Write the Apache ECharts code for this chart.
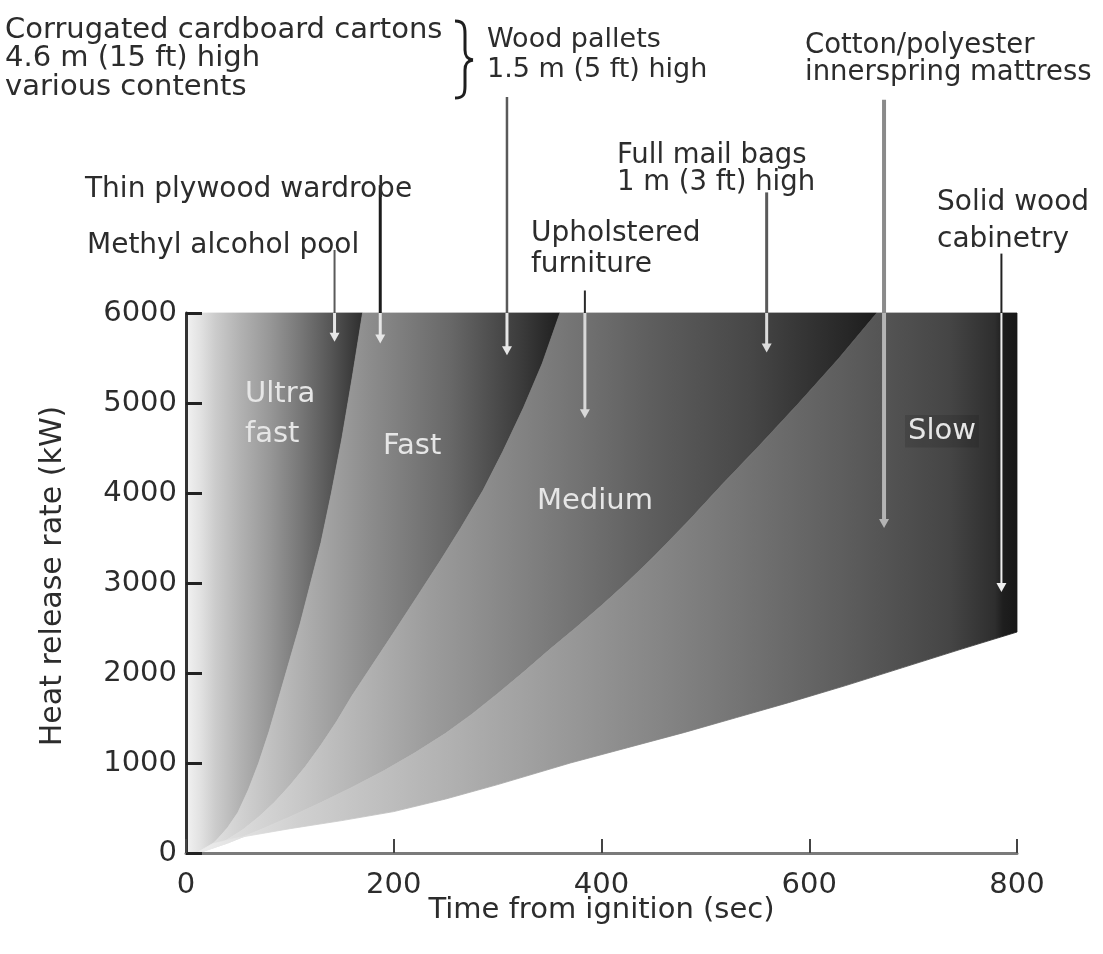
<!DOCTYPE html>
<html>
<head>
<meta charset="utf-8">
<title>Fire growth curves</title>
<script src="https://cdn.jsdelivr.net/npm/echarts@6/dist/echarts.min.js"></script>
<style>
  html, body { margin: 0; padding: 0; background: #ffffff; }
  #chart { width: 1103px; height: 954px; }
</style>
</head>
<body>
<div id="chart"></div>
<script>
// ---- Data: growth curves as [time from ignition (s), heat release rate (kW)] ----
const ultraFastCurve = [[12,0],[20,40],[30,150],[40,280],[50,450],[60,700],[70,1000],[80,1350],[90,1750],[100,2150],
                        [110,2550],[120,3000],[130,3450],[140,4000],[150,4600],[160,5280],[170,6000]];
const fastCurve      = [[12,0],[25,60],[40,150],[55,260],[70,400],[85,560],[100,750],[115,960],[130,1200],[145,1460],
                        [160,1750],[180,2100],[200,2450],[222,2840],[245,3250],[265,3620],[286,4030],[305,4460],
                        [325,4950],[343,5440],[360,6000]];
const mediumCurve    = [[12,0],[40,110],[70,250],[100,400],[130,560],[160,730],[190,910],[220,1110],[250,1330],
                        [275,1540],[300,1770],[325,2010],[350,2260],[375,2500],[400,2750],[425,3010],[450,3290],
                        [483,3680],[515,4080],[553,4540],[590,5000],[628,5490],[665,6000]];
const slowCurve      = [[10,0],[25,100],[50,170],[100,270],[150,360],[200,460],[250,600],[300,760],[335,880],
                        [370,1000],[425,1170],[480,1340],[530,1505],[580,1670],[635,1860],[690,2060],[745,2260],[800,2455]];

// Axis ranges
const timeMax = 800;
const timeStep = 200;
const hrrMax = 6000;
const hrrStep = 1000;

// Fuel items pointed at by arrows: time position, arrow start (kW, above the plot), arrow tip (kW)
const itemNames   = ['Methyl alcohol pool','Thin plywood wardrobe','Wood pallets','Upholstered furniture','Full mail bags','Cotton/polyester mattress','Solid wood cabinetry'];
const itemTimes   = [143, 187, 309, 384, 559, 672, 785];
const itemStartKW = [6700, 7420, 8400, 6250, 7340, 8370, 6660];
const itemTipKW   = [5680, 5660, 5530, 4830, 5560, 3610, 2900];

// Arrow styles (outside the plot / inside the plot)
const arrowStyles = [
  { outer: '#5a5a5a', outerW: 2,   inner: '#e6e6e6', innerW: 3 },
  { outer: '#1c1c1c', outerW: 3,   inner: '#e6e6e6', innerW: 3 },
  { outer: '#5a5a5a', outerW: 2.5, inner: '#e6e6e6', innerW: 3 },
  { outer: '#2a2a2a', outerW: 2,   inner: '#d8d8d8', innerW: 3 },
  { outer: '#5a5a5a', outerW: 3,   inner: '#dcdcdc', innerW: 3 },
  { outer: '#8a8a8a', outerW: 4,   inner: '#b4b4b4', innerW: 4 },
  { outer: '#222222', outerW: 2,   inner: '#f0f0f0', innerW: 2 }
];

// Horizontal shading of each band (fraction across band -> grey)
const bandShades = [
  [[0,'#f2f2f2'],[0.08,'#e2e2e2'],[0.165,'#cccccc'],[0.305,'#b2b2b2'],[0.475,'#979797'],[0.644,'#787878'],[0.814,'#575757'],[1,'#2e2e2e']],
  [[0,'#e8e8e8'],[0.318,'#a9a9a9'],[0.475,'#8c8c8c'],[0.696,'#686868'],[0.89,'#3c3c3c'],[1,'#1f1f1f']],
  [[0,'#e8e8e8'],[0.15,'#c8c8c8'],[0.34,'#9c9c9c'],[0.563,'#727272'],[0.666,'#5e5e5e'],[0.813,'#474747'],[0.887,'#363636'],[0.96,'#262626'],[1,'#1c1c1c']],
  [[0,'#eeeeee'],[0.125,'#d0d0d0'],[0.442,'#9a9a9a'],[0.613,'#7d7d7d'],[0.796,'#5c5c5c'],[0.918,'#454545'],[0.973,'#2e2e2e'],[0.983,'#1e1e1e'],[1,'#181818']]
];

const FONT = '"DejaVu Sans", "Liberation Sans", sans-serif';
const TEXT_DARK = '#2c2c2c';
const TEXT_LIGHT = '#e6e6e6';

// Polygon outline (in data units) for each shaded band
function bandOutline(i) {
  const rev = a => a.slice().reverse();
  if (i === 0) return [[0,0],[0,hrrMax]].concat(rev(ultraFastCurve));
  if (i === 1) return ultraFastCurve.concat(rev(fastCurve));
  if (i === 2) return fastCurve.concat(rev(mediumCurve));
  return slowCurve.concat([[timeMax,hrrMax]]).concat(rev(mediumCurve));
}

function textEl(x, y, text, size, extra) {
  return {
    type: 'text', x: x, y: y, z: 10,
    style: Object.assign({ text: text, font: size + 'px ' + FONT, fill: TEXT_DARK, lineHeight: 28.5 }, extra || {})
  };
}

const braceStyle = { stroke: '#1e1e1e', lineWidth: 3, fill: null };

const chart = echarts.init(document.getElementById('chart'), null, { renderer: 'canvas' });

const option = {
  animation: false,
  backgroundColor: '#ffffff',
  grid: { left: 186, right: 86, top: 313, bottom: 101 },
  xAxis: {
    type: 'value', min: 0, max: timeMax, interval: timeStep, z: 10,
    name: 'Time from ignition (sec)', nameLocation: 'middle', nameGap: 43, nameMoveOverlap: false,
    nameTextStyle: { fontFamily: FONT, fontSize: 29, color: TEXT_DARK },
    axisLine: { lineStyle: { color: '#7a7a7a', width: 3 } },
    axisTick: { inside: true, length: 14, lineStyle: { color: '#444444', width: 2 } },
    axisLabel: { fontFamily: FONT, fontSize: 29, color: TEXT_DARK, margin: 18, formatter: v => String(v) },
    splitLine: { show: false }
  },
  yAxis: {
    type: 'value', min: 0, max: hrrMax, interval: hrrStep, z: 10,
    name: 'Heat release rate (kW)', nameLocation: 'middle', nameGap: 118, nameRotate: 90,
    nameTextStyle: { fontFamily: FONT, fontSize: 30, color: TEXT_DARK, padding: [0, 0, 0, 14] },
    axisLine: { show: true, lineStyle: { color: '#333333', width: 3 } },
    axisTick: { show: true, inside: true, length: 16, lineStyle: { color: '#222222', width: 3 } },
    axisLabel: { fontFamily: FONT, fontSize: 29, color: TEXT_DARK, margin: 9, formatter: v => String(v) },
    splitLine: { show: false }
  },
  series: [
    {
      type: 'custom',
      name: 'growth bands',
      data: [[0],[1],[2],[3]],
      renderItem: function (params, api) {
        const i = params.dataIndex;
        const pts = bandOutline(i).map(p => api.coord(p));
        let x0 = Infinity, x1 = -Infinity;
        pts.forEach(p => { x0 = Math.min(x0, p[0]); x1 = Math.max(x1, p[0]); });
        const grad = new echarts.graphic.LinearGradient(x0, 0, x1, 0,
          bandShades[i].map(s => ({ offset: s[0], color: s[1] })), true);
        return {
          type: 'polygon',
          shape: { points: pts },
          style: { fill: grad, stroke: grad, lineWidth: 0.8 }
        };
      },
      z: 1
    },
    {
      type: 'custom',
      name: 'fuel items',
      clip: false,
      data: itemTimes.map((t, i) => [t, itemStartKW[i], itemTipKW[i]]),
      renderItem: function (params, api) {
        const st = arrowStyles[params.dataIndex];
        const t = api.value(0);
        const top = api.coord([t, api.value(1)]);
        const edge = api.coord([t, hrrMax]);
        const tip = api.coord([t, api.value(2)]);
        const hw = 5, hh = 9;
        return {
          type: 'group',
          children: [
            { type: 'line', shape: { x1: top[0], y1: top[1], x2: edge[0], y2: edge[1] },
              style: { stroke: st.outer, lineWidth: st.outerW } },
            { type: 'line', shape: { x1: edge[0], y1: edge[1], x2: tip[0], y2: tip[1] - hh + 1 },
              style: { stroke: st.inner, lineWidth: st.innerW } },
            { type: 'polygon', shape: { points: [[tip[0] - hw, tip[1] - hh], [tip[0] + hw, tip[1] - hh], [tip[0], tip[1]]] },
              style: { fill: st.inner } }
          ]
        };
      },
      z: 3
    }
  ],
  graphic: [
    // Labels above the plot
    textEl(5, 16, 'Corrugated cardboard cartons\n4.6 m (15 ft) high\nvarious contents', 29),
    { type: 'bezierCurve', shape: { x1: 455, y1: 21, x2: 465, y2: 34, cpx1: 464, cpy1: 21, cpx2: 465, cpy2: 26 }, style: braceStyle },
    { type: 'line', shape: { x1: 465, y1: 34, x2: 465, y2: 50 }, style: braceStyle },
    { type: 'bezierCurve', shape: { x1: 465, y1: 50, x2: 473, y2: 60, cpx1: 465, cpy1: 56, cpx2: 467, cpy2: 59 }, style: braceStyle },
    { type: 'bezierCurve', shape: { x1: 473, y1: 60, x2: 465, y2: 70, cpx1: 467, cpy1: 61, cpx2: 465, cpy2: 64 }, style: braceStyle },
    { type: 'line', shape: { x1: 465, y1: 70, x2: 465, y2: 86 }, style: braceStyle },
    { type: 'bezierCurve', shape: { x1: 465, y1: 86, x2: 455, y2: 98, cpx1: 465, cpy1: 94, cpx2: 464, cpy2: 98 }, style: braceStyle },
    textEl(487, 25, 'Wood pallets\n1.5 m (5 ft) high', 27, { lineHeight: 30 }),
    textEl(805, 32, 'Cotton/polyester\ninnerspring mattress', 27.5, { lineHeight: 27.5 }),
    textEl(85, 175, 'Thin plywood wardrobe', 28),
    textEl(617, 142, 'Full mail bags\n1 m (3 ft) high', 27.5, { lineHeight: 27 }),
    textEl(87, 231, 'Methyl alcohol pool', 28),
    textEl(531, 218, 'Upholstered\nfurniture', 28, { lineHeight: 31 }),
    textEl(937, 184, 'Solid wood\ncabinetry', 28, { lineHeight: 37 }),
    // Growth class names inside the plot
    textEl(245, 375, 'Ultra\nfast', 29, { lineHeight: 39.5, fill: TEXT_LIGHT }),
    textEl(383, 432, 'Fast', 29, { fill: TEXT_LIGHT }),
    textEl(537, 487, 'Medium', 29, { fill: TEXT_LIGHT }),
    textEl(905, 415, 'Slow', 29, { fill: TEXT_LIGHT, backgroundColor: 'rgba(0,0,0,0.12)', padding: [2, 3] })
  ]
};

chart.setOption(option);
</script>
</body>
</html>
